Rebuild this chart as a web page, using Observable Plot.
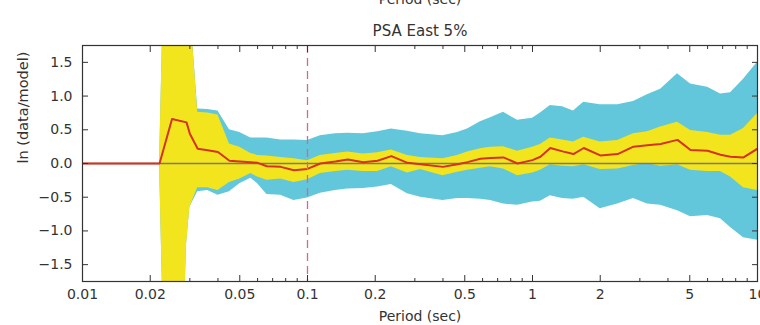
<!DOCTYPE html>
<html>
<head>
<meta charset="utf-8">
<script src="https://cdn.jsdelivr.net/npm/d3@7"></script>
<script src="https://cdn.jsdelivr.net/npm/@observablehq/plot@0.6"></script>
<style>
  html, body { margin: 0; padding: 0; background: #fff; }
  #chart { width: 760px; height: 325px; overflow: hidden; }
</style>
</head>
<body>
<div id="chart"></div>
<script>
// ---- data ----
const periods = [0.01, 0.022, 0.025, 0.029, 0.030, 0.0325, 0.036, 0.040, 0.045, 0.050, 0.056, 0.060, 0.066, 0.076, 0.087,
  0.10, 0.114, 0.133, 0.151, 0.177, 0.205, 0.236, 0.278, 0.318, 0.40, 0.464, 0.514, 0.587, 0.651, 0.743, 0.858,
  1.0, 1.085, 1.20, 1.36, 1.52, 1.69, 2.0, 2.39, 2.81, 3.24, 3.71, 4.41, 5.04, 6.0, 6.85, 7.59, 8.67, 10];
const meanVals = [0, 0, 0.66, 0.61, 0.44, 0.22, 0.195, 0.17, 0.04, 0.03, 0.02, 0.01, -0.04, -0.05, -0.10,
  -0.08, 0.00, 0.03, 0.06, 0.02, 0.04, 0.11, 0.01, -0.01, -0.05, -0.01, 0.02, 0.07, 0.08, 0.09, 0.00,
  0.05, 0.10, 0.23, 0.18, 0.14, 0.23, 0.12, 0.14, 0.25, 0.27, 0.29, 0.35, 0.20, 0.19, 0.13, 0.10, 0.09, 0.22];
const yellowHi = [0, 0, 8, 3.5, 2.37, 0.76, 0.75, 0.72, 0.29, 0.24, 0.15, 0.12, 0.11, 0.09, 0.07,
  0.04, 0.12, 0.15, 0.17, 0.14, 0.16, 0.20, 0.12, 0.09, 0.07, 0.12, 0.17, 0.22, 0.24, 0.25, 0.18,
  0.24, 0.28, 0.38, 0.35, 0.32, 0.39, 0.32, 0.34, 0.44, 0.47, 0.54, 0.61, 0.49, 0.46, 0.42, 0.42, 0.52, 0.74];
const yellowLo = [0, 0, -8, -1.2, -0.65, -0.36, -0.36, -0.40, -0.28, -0.23, -0.15, -0.20, -0.25, -0.23, -0.28,
  -0.24, -0.15, -0.12, -0.10, -0.12, -0.12, -0.05, -0.14, -0.09, -0.18, -0.13, -0.10, -0.07, -0.05, -0.08, -0.18,
  -0.14, -0.10, -0.02, -0.04, -0.05, -0.02, -0.09, -0.08, -0.03, 0.00, -0.04, -0.02, -0.10, -0.12, -0.12, -0.20, -0.36, -0.40];
const cyanHi = [0, 0, 8, 3.5, 2.37, 0.81, 0.80, 0.78, 0.50, 0.46, 0.38, 0.38, 0.38, 0.35, 0.35,
  0.34, 0.41, 0.44, 0.45, 0.44, 0.47, 0.51, 0.48, 0.44, 0.41, 0.46, 0.51, 0.62, 0.68, 0.76, 0.64,
  0.67, 0.75, 0.86, 0.84, 0.78, 0.91, 0.87, 0.87, 0.92, 1.02, 1.10, 1.33, 1.18, 1.13, 1.03, 1.05, 1.25, 1.50];
const cyanLo = [0, 0, -8, -1.2, -0.65, -0.42, -0.40, -0.47, -0.42, -0.30, -0.22, -0.30, -0.46, -0.47, -0.55,
  -0.51, -0.44, -0.40, -0.38, -0.37, -0.35, -0.31, -0.45, -0.50, -0.55, -0.52, -0.52, -0.53, -0.55, -0.60, -0.62,
  -0.57, -0.56, -0.48, -0.52, -0.53, -0.50, -0.67, -0.60, -0.52, -0.60, -0.62, -0.70, -0.79, -0.77, -0.82, -0.95, -1.10, -1.14];

const xMajor = [0.01, 0.02, 0.05, 0.1, 0.2, 0.5, 1, 2, 5, 10];
const xMajorLabels = ["0.01", "0.02", "0.05", "0.1", "0.2", "0.5", "1", "2", "5", "10"];
const xMinor = [0.03, 0.04, 0.06, 0.07, 0.08, 0.09, 0.3, 0.4, 0.6, 0.7, 0.8, 0.9, 3, 4, 6, 7, 8, 9];
const yTicks = [-1.5, -1.0, -0.5, 0, 0.5, 1.0, 1.5];
const yTickLabels = ["\u22121.5", "\u22121.0", "\u22120.5", "0.0", "0.5", "1.0", "1.5"];
const referenceLine = [0.1];

const titleText = "PSA East 5%";
const xTitle = "Period (sec)";
const yTitle = "ln (data/model)";

const rows = periods.map((p, i) => ({
  T: p, m: meanVals[i], ylo: yellowLo[i], yhi: yellowHi[i], clo: cyanLo[i], chi: cyanHi[i]
}));
const xTickRows = xMajor.map((v, i) => ({ v, label: xMajorLabels[i] }));
const yLab = new Map(yTicks.map((v, i) => [v, yTickLabels[i]]));

const ink = "#333333";
const cyan = "#63c7db";
const yellow = "#f3e51d";
const red = "#d5331f";

const chart = Plot.plot({
  width: 760,
  height: 325,
  marginLeft: 82,
  marginRight: 3,
  marginTop: 45,
  marginBottom: 44,
  style: { fontFamily: "DejaVu Sans", fontSize: "14px", color: ink, background: "#fff", overflow: "visible" },
  x: { type: "log", domain: [0.01, 10], label: null },
  y: { domain: [-1.75, 1.75], label: null },
  marks: [
    Plot.areaY(rows, { x: "T", y1: "clo", y2: "chi", fill: cyan, clip: true }),
    Plot.areaY(rows, { x: "T", y1: "ylo", y2: "yhi", fill: yellow, clip: true }),
    Plot.ruleY([0], { stroke: "#7a7a7a", strokeWidth: 1.3 }),
    Plot.lineY(rows, { x: "T", y: "m", stroke: red, strokeWidth: 2, clip: true }),
    Plot.ruleX(referenceLine, { stroke: "#d8649d", strokeWidth: 1.3, strokeDasharray: "8,5" }),
    // inward ticks
    Plot.axisX(xMajor, { anchor: "bottom", tickSize: 6, dy: -6, tickFormat: () => "", label: null, stroke: ink }),
    Plot.axisX(xMinor, { anchor: "bottom", tickSize: 3, dy: -3, tickFormat: () => "", label: null, stroke: ink }),
    Plot.axisX(xMajor, { anchor: "top", tickSize: 6, dy: 6, tickFormat: () => "", label: null, stroke: ink }),
    Plot.axisX(xMinor, { anchor: "top", tickSize: 3, dy: 3, tickFormat: () => "", label: null, stroke: ink }),
    Plot.axisY(yTicks, { anchor: "left", tickSize: 6, dx: 6, tickFormat: () => "", label: null, stroke: ink }),
    Plot.axisY(yTicks, { anchor: "right", tickSize: 6, dx: -6, tickFormat: () => "", label: null, stroke: ink }),
    // tick labels
    Plot.text(xTickRows, { x: "v", text: "label", frameAnchor: "bottom", dy: 8, lineAnchor: "top", fontSize: 14, fill: ink }),
    Plot.axisY(yTicks, { anchor: "left", tickSize: 0, tickPadding: 10, tickFormat: d => yLab.get(d), label: null, fill: ink, fontSize: 14 }),
    Plot.frame({ stroke: ink, strokeWidth: 1.2 }),
    // titles
    Plot.text([titleText], { text: d => d, frameAnchor: "top", dy: -10, lineAnchor: "bottom", fontSize: 15, fill: ink }),
    Plot.text([xTitle], { text: d => d, frameAnchor: "top", dy: -42, lineAnchor: "bottom", fontSize: 14, fill: ink }),
    Plot.text([xTitle], { text: d => d, frameAnchor: "bottom", dy: 39, lineAnchor: "bottom", fontSize: 14, fill: ink }),
    Plot.text([yTitle], { text: d => d, frameAnchor: "left", dx: -59, rotate: -90, lineAnchor: "middle", fontSize: 14.5, fill: ink })
  ]
});
document.getElementById("chart").appendChild(chart);
</script>
</body>
</html>
